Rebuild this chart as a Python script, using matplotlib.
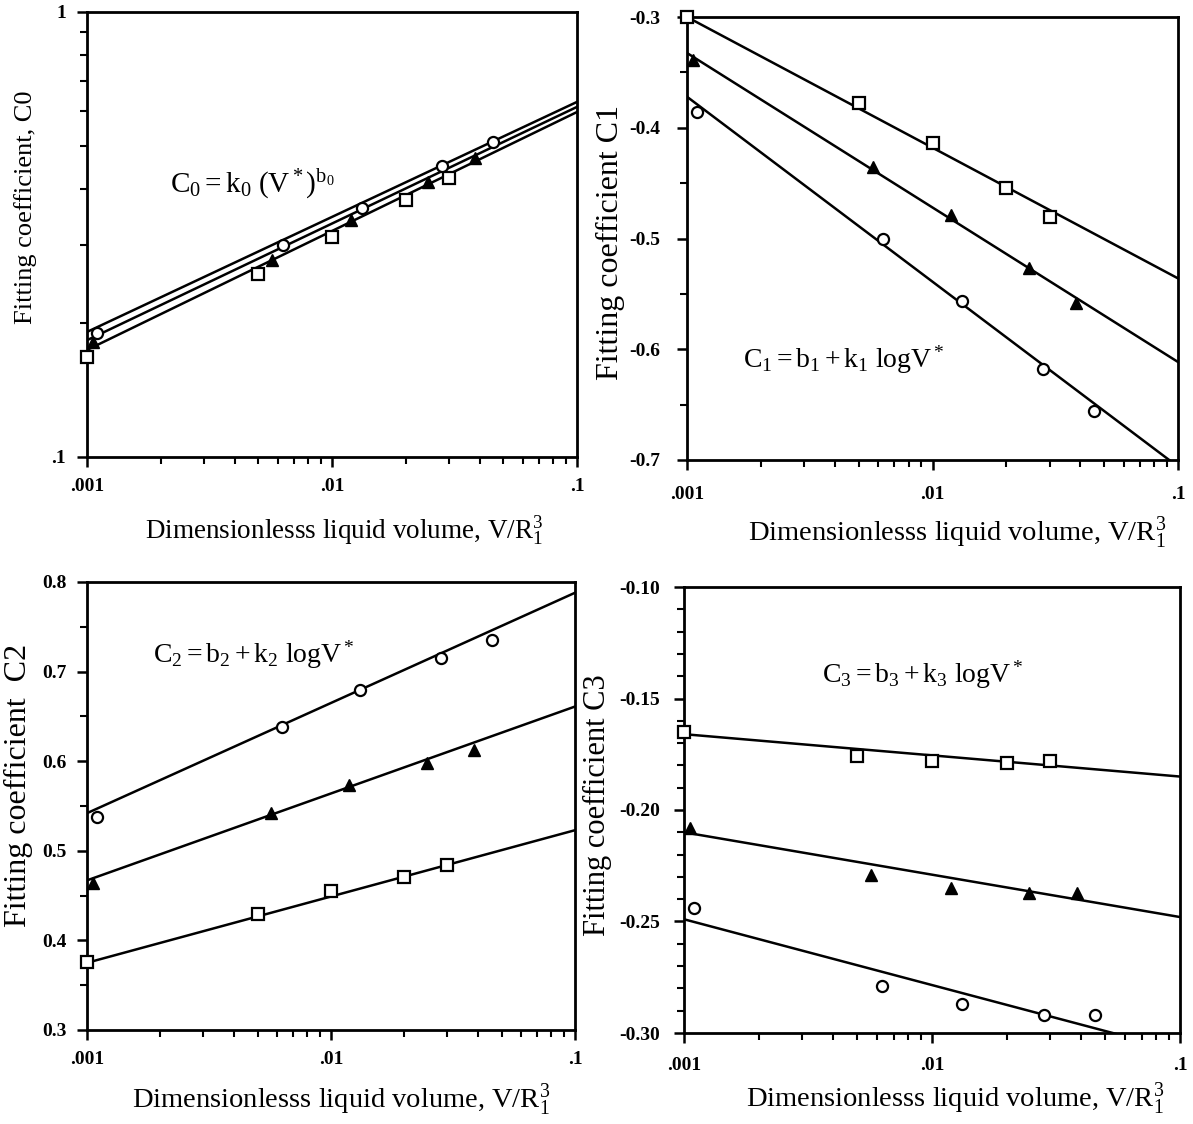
import numpy as np
import matplotlib
matplotlib.use("Agg")
import matplotlib.pyplot as plt
from matplotlib.ticker import FixedLocator, NullFormatter, LogLocator

plt.rcParams['font.family'] = ['Liberation Serif', 'DejaVu Serif']
plt.rcParams['mathtext.fontset'] = 'custom'
plt.rcParams['mathtext.rm'] = 'Liberation Serif'
plt.rcParams['mathtext.it'] = 'Liberation Serif:italic'

# ---- data ----
x_sq = [0.001, 0.005, 0.01, 0.02, 0.03]
x_tri = [0.00106, 0.0057, 0.0119, 0.0247, 0.0385]
x_circ = [0.0011, 0.0063, 0.0132, 0.0282, 0.0456]
x_line = [0.001, 0.1]

c0_sq = [0.168, 0.258, 0.312, 0.378, 0.424]
c0_tri = [0.181, 0.277, 0.341, 0.415, 0.470]
c0_circ = [0.190, 0.300, 0.363, 0.451, 0.510]
c0_line_sq = [0.174, 0.596]
c0_line_tri = [0.183, 0.612]
c0_line_circ = [0.191, 0.628]

c1_sq = [-0.300, -0.378, -0.414, -0.454, -0.481]
c1_tri = [-0.339, -0.435, -0.479, -0.527, -0.558]
c1_circ = [-0.386, -0.500, -0.556, -0.618, -0.656]
c1_line_sq = [-0.300, -0.536]
c1_line_tri = [-0.3325, -0.6115]
c1_line_circ = [-0.372, -0.706]

c2_sq = [0.376, 0.430, 0.455, 0.471, 0.484]
c2_tri = [0.464, 0.542, 0.573, 0.598, 0.613]
c2_circ = [0.538, 0.638, 0.680, 0.715, 0.735]
c2_line_sq = [0.375, 0.523]
c2_line_tri = [0.467, 0.661]
c2_line_circ = [0.542, 0.788]

c3_sq = [-0.165, -0.176, -0.178, -0.179, -0.178]
c3_tri = [-0.208, -0.229, -0.235, -0.237, -0.237]
c3_circ = [-0.244, -0.279, -0.287, -0.292, -0.292]
c3_line_sq = [-0.166, -0.185]
c3_line_tri = [-0.210, -0.248]
c3_line_circ = [-0.249, -0.308]

x_ticks = [0.001, 0.01, 0.1]
x_ticklabels = ['.001', '.01', '.1']

xlabel = r'Dimensionlesss liquid volume, V/$\mathrm{R_1^3}$'

fig = plt.figure(figsize=(11.93, 11.24), dpi=100)

def px_axes(l, r, t, b):
    W, H = 1193, 1124
    return fig.add_axes([l / W, 1 - b / H, (r - l) / W, (b - t) / H])

def style(ax, tickpad):
    for s in ax.spines.values():
        s.set_linewidth(2.0)
    ax.set_xscale('log')
    ax.set_xlim(0.001, 0.1)
    ax.xaxis.set_major_locator(FixedLocator(x_ticks))
    ax.set_xticklabels(x_ticklabels)
    ax.xaxis.set_minor_locator(LogLocator(base=10, subs=np.arange(2, 10)))
    ax.xaxis.set_minor_formatter(NullFormatter())
    ax.tick_params(which='major', direction='out', length=7, width=1.8,
                   labelsize=14, pad=tickpad)
    ax.tick_params(which='minor', direction='out', length=5, width=1.5)
    for lab in ax.get_xticklabels() + ax.get_yticklabels():
        lab.set_fontweight('bold')

def draw(ax, ys, lines):
    lw = 1.8
    for ln in lines:
        ax.plot(x_line, ln, color='black', lw=lw, zorder=2)
    ax.plot(x_sq, ys[0], ls='none', marker='s', ms=8, mfc='white', mec='black', mew=1.6, zorder=3, clip_on=False)
    ax.plot(x_tri, ys[1], ls='none', marker='^', ms=9, mfc='black', mec='black', zorder=3, clip_on=False)
    ax.plot(x_circ, ys[2], ls='none', marker='o', ms=8, mfc='white', mec='black', mew=1.6, zorder=3, clip_on=False)

# Top-left
ax0 = px_axes(87, 577, 12, 457)
draw(ax0, [c0_sq, c0_tri, c0_circ], [c0_line_sq, c0_line_tri, c0_line_circ])
ax0.set_yscale('log')
ax0.set_ylim(0.1, 1)
ax0.yaxis.set_major_locator(FixedLocator([0.1, 1]))
ax0.set_yticklabels(['.1', '1'])
ax0.yaxis.set_minor_locator(LogLocator(base=10, subs=np.arange(2, 10)))
ax0.yaxis.set_minor_formatter(NullFormatter())
style(ax0, 8)
ax0.set_ylabel('Fitting coefficient, C0', fontsize=19)
ax0.yaxis.set_label_coords(-0.102, 0.562)
ax0.set_xlabel(xlabel, fontsize=19.5)
ax0.xaxis.set_label_coords(0.525, -0.13)
ax0.text(0.17, 0.595, r'$\mathrm{C_0 = k_0\ (V^*)^{b_0}}$', transform=ax0.transAxes, fontsize=21)

# Top-right
ax1 = px_axes(687, 1178, 17, 460)
draw(ax1, [c1_sq, c1_tri, c1_circ], [c1_line_sq, c1_line_tri, c1_line_circ])
ax1.set_ylim(-0.7, -0.3)
ax1.set_yticks([-0.7, -0.6, -0.5, -0.4, -0.3])
ax1.set_yticklabels(['-0.7', '-0.6', '-0.5', '-0.4', '-0.3'])
ax1.yaxis.set_minor_locator(FixedLocator(np.arange(-0.7, -0.29, 0.05)))
style(ax1, 12)
ax1.set_ylabel('Fitting coefficient C1', fontsize=23)
ax1.yaxis.set_label_coords(-0.126, 0.49)
ax1.set_xlabel(xlabel, fontsize=20.5)
ax1.xaxis.set_label_coords(0.55, -0.125)
ax1.text(0.114, 0.208, r'$\mathrm{C_1 = b_1 + k_1\ logV^*}$', transform=ax1.transAxes, fontsize=20)

# Bottom-left
ax2 = px_axes(87, 575, 582, 1030)
draw(ax2, [c2_sq, c2_tri, c2_circ], [c2_line_sq, c2_line_tri, c2_line_circ])
ax2.set_ylim(0.3, 0.8)
ax2.set_yticks([0.3, 0.4, 0.5, 0.6, 0.7, 0.8])
ax2.set_yticklabels(['0.3', '0.4', '0.5', '0.6', '0.7', '0.8'])
ax2.yaxis.set_minor_locator(FixedLocator(np.arange(0.3, 0.81, 0.05)))
style(ax2, 8)
ax2.set_ylabel('Fitting coefficient  C2', fontsize=23)
ax2.yaxis.set_label_coords(-0.111, 0.545)
ax2.set_xlabel(xlabel, fontsize=20.5)
ax2.xaxis.set_label_coords(0.52, -0.117)
ax2.text(0.135, 0.821, r'$\mathrm{C_2 = b_2 + k_2\ logV^*}$', transform=ax2.transAxes, fontsize=20)

# Bottom-right
ax3 = px_axes(684, 1180, 587, 1033)
draw(ax3, [c3_sq, c3_tri, c3_circ], [c3_line_sq, c3_line_tri, c3_line_circ])
ax3.set_ylim(-0.30, -0.10)
ax3.set_yticks([-0.30, -0.25, -0.20, -0.15, -0.10])
ax3.set_yticklabels(['-0.30', '-0.25', '-0.20', '-0.15', '-0.10'])
ax3.yaxis.set_minor_locator(FixedLocator(np.arange(-0.30, -0.099, 0.01)))
style(ax3, 10)
ax3.set_ylabel('Fitting coefficient C3', fontsize=22)
ax3.yaxis.set_label_coords(-0.145, 0.511)
ax3.set_xlabel(xlabel, fontsize=20.5)
ax3.xaxis.set_label_coords(0.546, -0.108)
ax3.text(0.278, 0.785, r'$\mathrm{C_3 = b_3 + k_3\ logV^*}$', transform=ax3.transAxes, fontsize=20)

fig.savefig('out.png', dpi=100)
